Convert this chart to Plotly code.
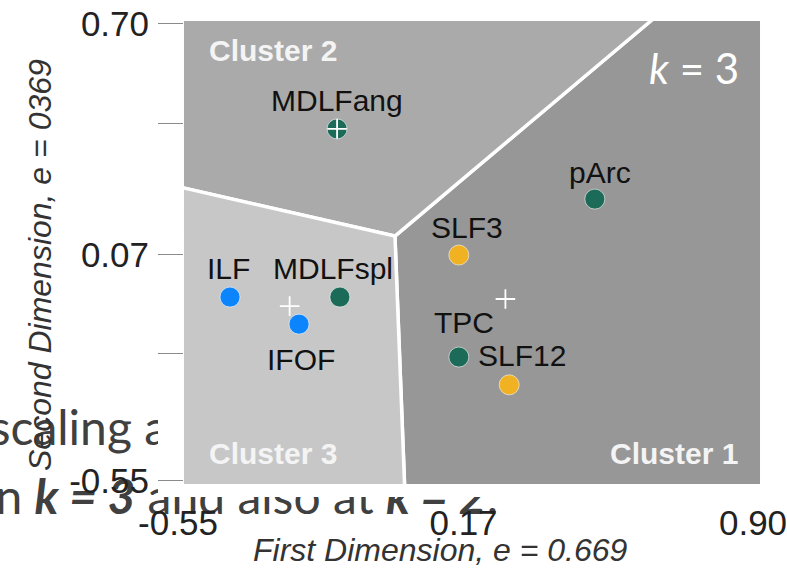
import plotly.graph_objects as go

# ---- data -------------------------------------------------------------
TRACTS = ["MDLFang", "pArc", "SLF3", "ILF", "MDLFspl", "IFOF", "TPC", "SLF12"]
DIM1 = [-0.164, 0.486, 0.143, -0.434, -0.157, -0.260, 0.143, 0.270]
DIM2 = [0.413, 0.221, 0.068, -0.047, -0.047, -0.121, -0.211, -0.287]
GROUP = [1, 1, 2, 3, 1, 3, 1, 2]          # tract family (marker colour)
CLUSTER = [2, 1, 1, 3, 3, 3, 1, 1]        # k-means assignment, k = 3
CLUSTER_IDS = [1, 2, 3]

X_TICKS = [-0.55, 0.17, 0.90]
X_TICK_TEXT = ["-0.55", "0.17", "0.90"]
Y_TICKS = [0.70, 0.4265, 0.07, -0.2026, -0.55]
Y_TICK_TEXT = ["0.70", "", "0.07", "", "-0.55"]

X_TITLE = "First Dimension, e = 0.669"
Y_TITLE = "Second Dimension, e = 0369"
SLIDE_LINES = ["scaling a",
               "n <b><i>k = 3</i></b> and also at <b><i>k = 2</i></b>."]

# ---- styling ------------------------------------------------------------
GROUP_COLORS = {1: "#1c6a58", 2: "#f0b122", 3: "#0c84fb"}
REGION_COLORS = {1: "#979797", 2: "#aaaaaa", 3: "#c7c7c7"}
LABEL_SHIFT = {  # (dx, dy) in px, dy downward
    "MDLFang": (0, -28), "pArc": (5, -27), "SLF3": (8, -28), "ILF": (-2, -29),
    "MDLFspl": (-7, -29), "IFOF": (2, 35), "TPC": (5, -35), "SLF12": (13, -29),
}
FONT = "Liberation Sans"
W, H = 787, 573
ML, MB = 158, 76
PW, PH = W - ML, H - MB
XR = [-0.6156, 0.9706]
YR = [-0.5938, 0.7656]
PANEL_X = [-0.5545, 0.907]
PANEL_Y = [-0.563, 0.713]


def px_to_x(px):
    return XR[0] + (px - ML) / PW * (XR[1] - XR[0])


def px_to_y(py):
    return YR[1] - py / PH * (YR[1] - YR[0])


# ---- cluster centroids and their Voronoi cells ----------------------------
centroids = {}
for c in CLUSTER_IDS:
    xs = [x for x, k in zip(DIM1, CLUSTER) if k == c]
    ys = [y for y, k in zip(DIM2, CLUSTER) if k == c]
    centroids[c] = (sum(xs) / len(xs), sum(ys) / len(ys))


def clip_halfplane(poly, a, b, lim):
    """Keep the part of poly where a*x + b*y <= lim."""
    out = []
    n = len(poly)
    for i in range(n):
        p, q = poly[i], poly[(i + 1) % n]
        fp = a * p[0] + b * p[1] - lim
        fq = a * q[0] + b * q[1] - lim
        if fp <= 0:
            out.append(p)
        if fp * fq < 0:
            t = fp / (fp - fq)
            out.append((p[0] + t * (q[0] - p[0]), p[1] + t * (q[1] - p[1])))
    return out


cells = {}
for c in CLUSTER_IDS:
    poly = [(PANEL_X[0], PANEL_Y[0]), (PANEL_X[1], PANEL_Y[0]),
            (PANEL_X[1], PANEL_Y[1]), (PANEL_X[0], PANEL_Y[1])]
    cx, cy = centroids[c]
    for o in CLUSTER_IDS:
        if o == c:
            continue
        ox, oy = centroids[o]
        poly = clip_halfplane(poly, 2 * (ox - cx), 2 * (oy - cy),
                              (ox ** 2 + oy ** 2) - (cx ** 2 + cy ** 2))
    cells[c] = poly

fig = go.Figure()

# slide text behind the chart: right-aligned lines that run out to the left
slide_end = [(168, 433), (498, 478)]
fig.add_trace(go.Scatter(
    x=[px_to_x(p[0]) for p in slide_end], y=[px_to_y(p[1]) for p in slide_end],
    mode="text", text=SLIDE_LINES, textposition=["middle left", "bottom left"],
    textfont=dict(family="Lato", size=48, color="#404040"),
    cliponaxis=False, hoverinfo="skip", showlegend=False))

# white chart canvas covering the slide text
fig.add_trace(go.Scatter(
    x=[XR[0], XR[1], XR[1], XR[0], XR[0]], y=[YR[0], YR[0], YR[1], YR[1], YR[0]],
    mode="lines", fill="toself", fillcolor="white", line=dict(width=0),
    hoverinfo="skip", showlegend=False))

# cluster cells
for c in CLUSTER_IDS:
    poly = cells[c] + [cells[c][0]]
    fig.add_trace(go.Scatter(
        x=[p[0] for p in poly], y=[p[1] for p in poly], mode="lines",
        fill="toself", fillcolor=REGION_COLORS[c],
        line=dict(color="white", width=3.5), hoverinfo="skip", showlegend=False))

# tracts
for g in sorted(GROUP_COLORS):
    idx = [i for i, gg in enumerate(GROUP) if gg == g]
    fig.add_trace(go.Scatter(
        x=[DIM1[i] for i in idx], y=[DIM2[i] for i in idx], mode="markers",
        marker=dict(size=20, color=GROUP_COLORS[g],
                    line=dict(color="rgba(255,255,255,0.55)", width=1)),
        text=[TRACTS[i] for i in idx], showlegend=False))

# centroids
fig.add_trace(go.Scatter(
    x=[centroids[c][0] for c in CLUSTER_IDS], y=[centroids[c][1] for c in CLUSTER_IDS],
    mode="markers", marker=dict(symbol="cross-thin", size=14,
                                line=dict(color="white", width=1.8)),
    hoverinfo="skip", showlegend=False))

annotations = []
for name, x, y in zip(TRACTS, DIM1, DIM2):
    dx, dy = LABEL_SHIFT[name]
    annotations.append(dict(x=x, y=y, xref="x", yref="y", text=name, showarrow=False,
                            xshift=dx, yshift=-dy,
                            font=dict(family=FONT, size=30, color="#111111")))

cluster_label_pos = {2: (207, 50, "left"), 3: (207, 453, "left"), 1: (740, 453, "right")}
for c in CLUSTER_IDS:
    px, py, anchor = cluster_label_pos[c]
    annotations.append(dict(x=px_to_x(px), y=px_to_y(py), xref="x", yref="y",
                            text=f"<b>Cluster {c}</b>", showarrow=False, xanchor=anchor,
                            font=dict(family=FONT, size=30, color="#f4f4f4")))

annotations.append(dict(x=px_to_x(741), y=px_to_y(68), xref="x", yref="y",
                        text="<i>k</i> = 3", showarrow=False, xanchor="right",
                        font=dict(family="Lato", size=42, color="white")))

annotations.append(dict(x=(440 - ML) / PW, y=(PH - 550) / PH, xref="paper", yref="paper",
                        xanchor="center", yanchor="middle",
                        text=f"<i>{X_TITLE}</i>", showarrow=False,
                        font=dict(family=FONT, size=32, color="#333333")))
annotations.append(dict(x=(40 - ML) / PW, y=(PH - 265) / PH, xref="paper", yref="paper",
                        xanchor="center", yanchor="middle",
                        text=f"<i>{Y_TITLE}</i>", showarrow=False, textangle=-90,
                        font=dict(family=FONT, size=32, color="#333333")))

fig.update_layout(
    width=W, height=H, margin=dict(l=ML, r=0, t=0, b=MB, pad=0),
    paper_bgcolor="white", plot_bgcolor="white", showlegend=False,
    annotations=annotations,
    xaxis=dict(range=XR, tickvals=X_TICKS, ticktext=X_TICK_TEXT, ticks="",
               showgrid=False, zeroline=False, showline=False,
               ticklabelstandoff=2, ticklabelshift=-6, ticklabeloverflow="allow",
               tickfont=dict(family=FONT, size=35, color="#222222")),
    yaxis=dict(range=YR, tickvals=Y_TICKS, ticktext=Y_TICK_TEXT, ticks="inside",
               ticklen=25, tickwidth=1, tickcolor="#8a8a8a",
               showgrid=False, zeroline=False, showline=False,
               ticklabelstandoff=8,
               tickfont=dict(family=FONT, size=35, color="#222222")),
)

fig.write_html("out.html")
